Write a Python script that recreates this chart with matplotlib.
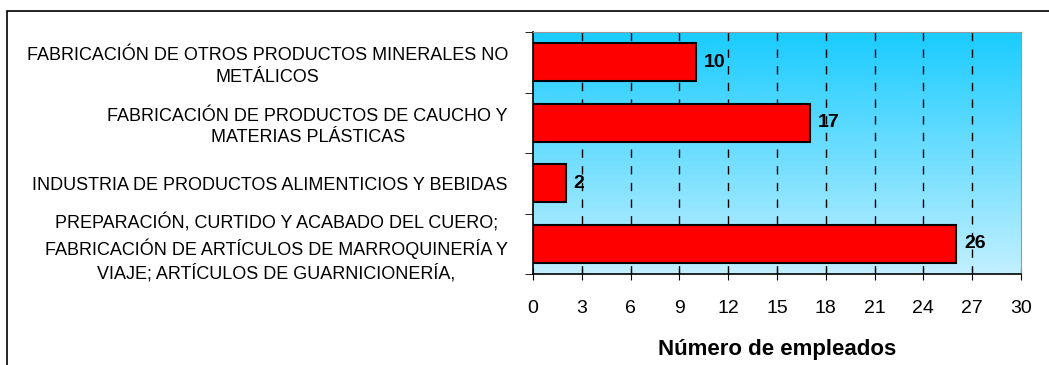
import numpy as np
import matplotlib
matplotlib.use("Agg")
import matplotlib.pyplot as plt
from matplotlib.patches import Rectangle

plt.rcParams['font.family'] = ['Liberation Sans', 'DejaVu Sans']

# Actividades (de arriba hacia abajo) y número de empleados
actividades = [
    "FABRICACIÓN DE OTROS PRODUCTOS MINERALES NO\nMETÁLICOS",
    "FABRICACIÓN DE PRODUCTOS DE CAUCHO Y\nMATERIAS PLÁSTICAS",
    "INDUSTRIA DE PRODUCTOS ALIMENTICIOS Y BEBIDAS",
    "PREPARACIÓN, CURTIDO Y ACABADO DEL CUERO;\nFABRICACIÓN DE ARTÍCULOS DE MARROQUINERÍA Y\nVIAJE; ARTÍCULOS DE GUARNICIONERÍA,",
]
empleados = [10, 17, 2, 26]
ticks_x = list(range(0, 31, 3))

fig = plt.figure(figsize=(10.49, 3.65), dpi=100)
W, H = 1049, 365

# marco exterior del gráfico
fig.add_artist(Rectangle((7 / W, -0.1), 1.2, (H - 11) / H + 0.1,
                         transform=fig.transFigure, fill=False,
                         edgecolor='black', linewidth=1.2))

ax = fig.add_axes([533 / W, (H - 274) / H, 488 / W, 242 / H])

# fondo degradado azul
grad = np.linspace(0, 1, 256).reshape(-1, 1)
top = np.array([0.10, 0.80, 1.00])
bottom = np.array([0.76, 0.94, 1.00])
colores = top + (bottom - top) * grad[..., None]
ax.imshow(colores.reshape(256, 1, 3), extent=[0, 1, 0, 1], transform=ax.transAxes,
          aspect='auto', zorder=0)

y = np.arange(len(actividades))
barras = ax.barh(y, empleados, height=0.63, color='#ff0000', edgecolor='black',
                 linewidth=1.5, zorder=3)

for yi, v in zip(y, empleados):
    ax.text(v + 0.5, yi, str(v), va='center', ha='left', fontsize=14,
            fontweight='bold', zorder=4)

ax.set_xlim(0, 30)
ax.set_ylim(len(actividades) - 0.5, -0.5)
ax.set_xticks(ticks_x)
ax.set_xticklabels([str(t) for t in ticks_x], fontsize=14)

for t in ticks_x[1:-1]:
    ax.axvline(t, color='black', linewidth=1, linestyle=(0, (6, 6)), zorder=2)

ax.set_yticks(y)
ax.set_yticklabels(actividades, fontsize=13, multialignment='center',
                   linespacing=1.35)
ax.set_yticks(np.arange(-0.5, len(actividades)), minor=True)
ax.tick_params(axis='y', which='major', length=0, pad=18)
ax.tick_params(axis='y', which='minor', length=6, direction='out')
ax.tick_params(axis='x', length=9, direction='inout', pad=14)

ax.spines['top'].set_color('#999999')
ax.spines['right'].set_color('#999999')
ax.spines['left'].set_linewidth(1.2)
ax.spines['bottom'].set_linewidth(1.2)

ax.set_xlabel("Número de empleados", fontsize=16, fontweight='bold', labelpad=16)

fig.savefig("out.png", dpi=100)
